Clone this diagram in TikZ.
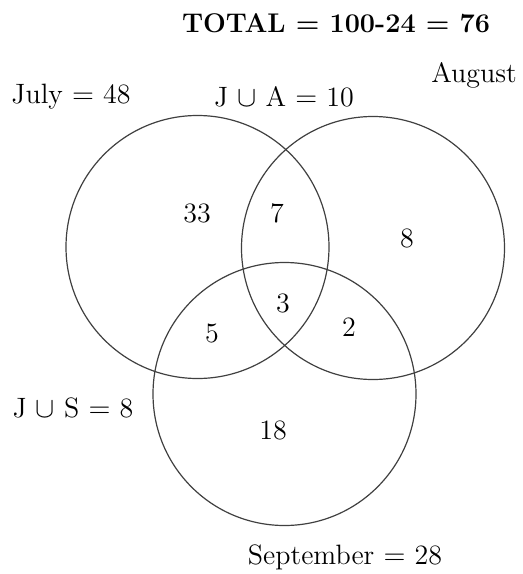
\documentclass[tikz,border=0pt]{standalone}
\usetikzlibrary{positioning}

\begin{document}
\begin{tikzpicture}[
    x=0.5pt, y=-0.5pt,
    setcircle/.style={circle, draw=black!75, line width=0.6pt, minimum size=131.5pt, inner sep=0pt},
    lbl/.style={font=\fontsize{14}{16}\selectfont, inner sep=0pt},
    num/.style={font=\fontsize{14}{16}\selectfont, inner sep=0pt},
    title/.style={font=\fontsize{13.5}{16}\selectfont\bfseries, inner sep=0pt}
]
    \useasboundingbox (0,0) rectangle (523,574);

    % Title
    \node[title] (total) at (336,23) {TOTAL = 100-24 = 76};

    % Sets
    \node[setcircle] (july) at (197.5,247) {};
    \node[setcircle] (august) at (373,248) {};
    \node[setcircle] (september) at (284.5,394) {};

    % Set labels
    \node[lbl] (julylbl) at (71,97) {July $=$ 48};
    \node[lbl] (jalbl) at (284,97) {J $\cup$ A $=$ 10};
    \node[lbl] (auglbl) at (474,75) {August};
    \node[lbl] (jslbl) at (73,408) {J $\cup$ S $=$ 8};
    \node[lbl] (seplbl) at (345,557) {September $=$ 28};

    % Region counts
    \node[num] (onlyj) at (197,213) {33};
    \node[num] (ja) at (277,213) {7};
    \node[num] (onlya) at (407,238) {8};
    \node[num] (jas) at (283,303) {3};
    \node[num] (js) at (212,333) {5};
    \node[num] (as) at (349,327) {2};
    \node[num] (onlys) at (273,430) {18};
\end{tikzpicture}
\end{document}
